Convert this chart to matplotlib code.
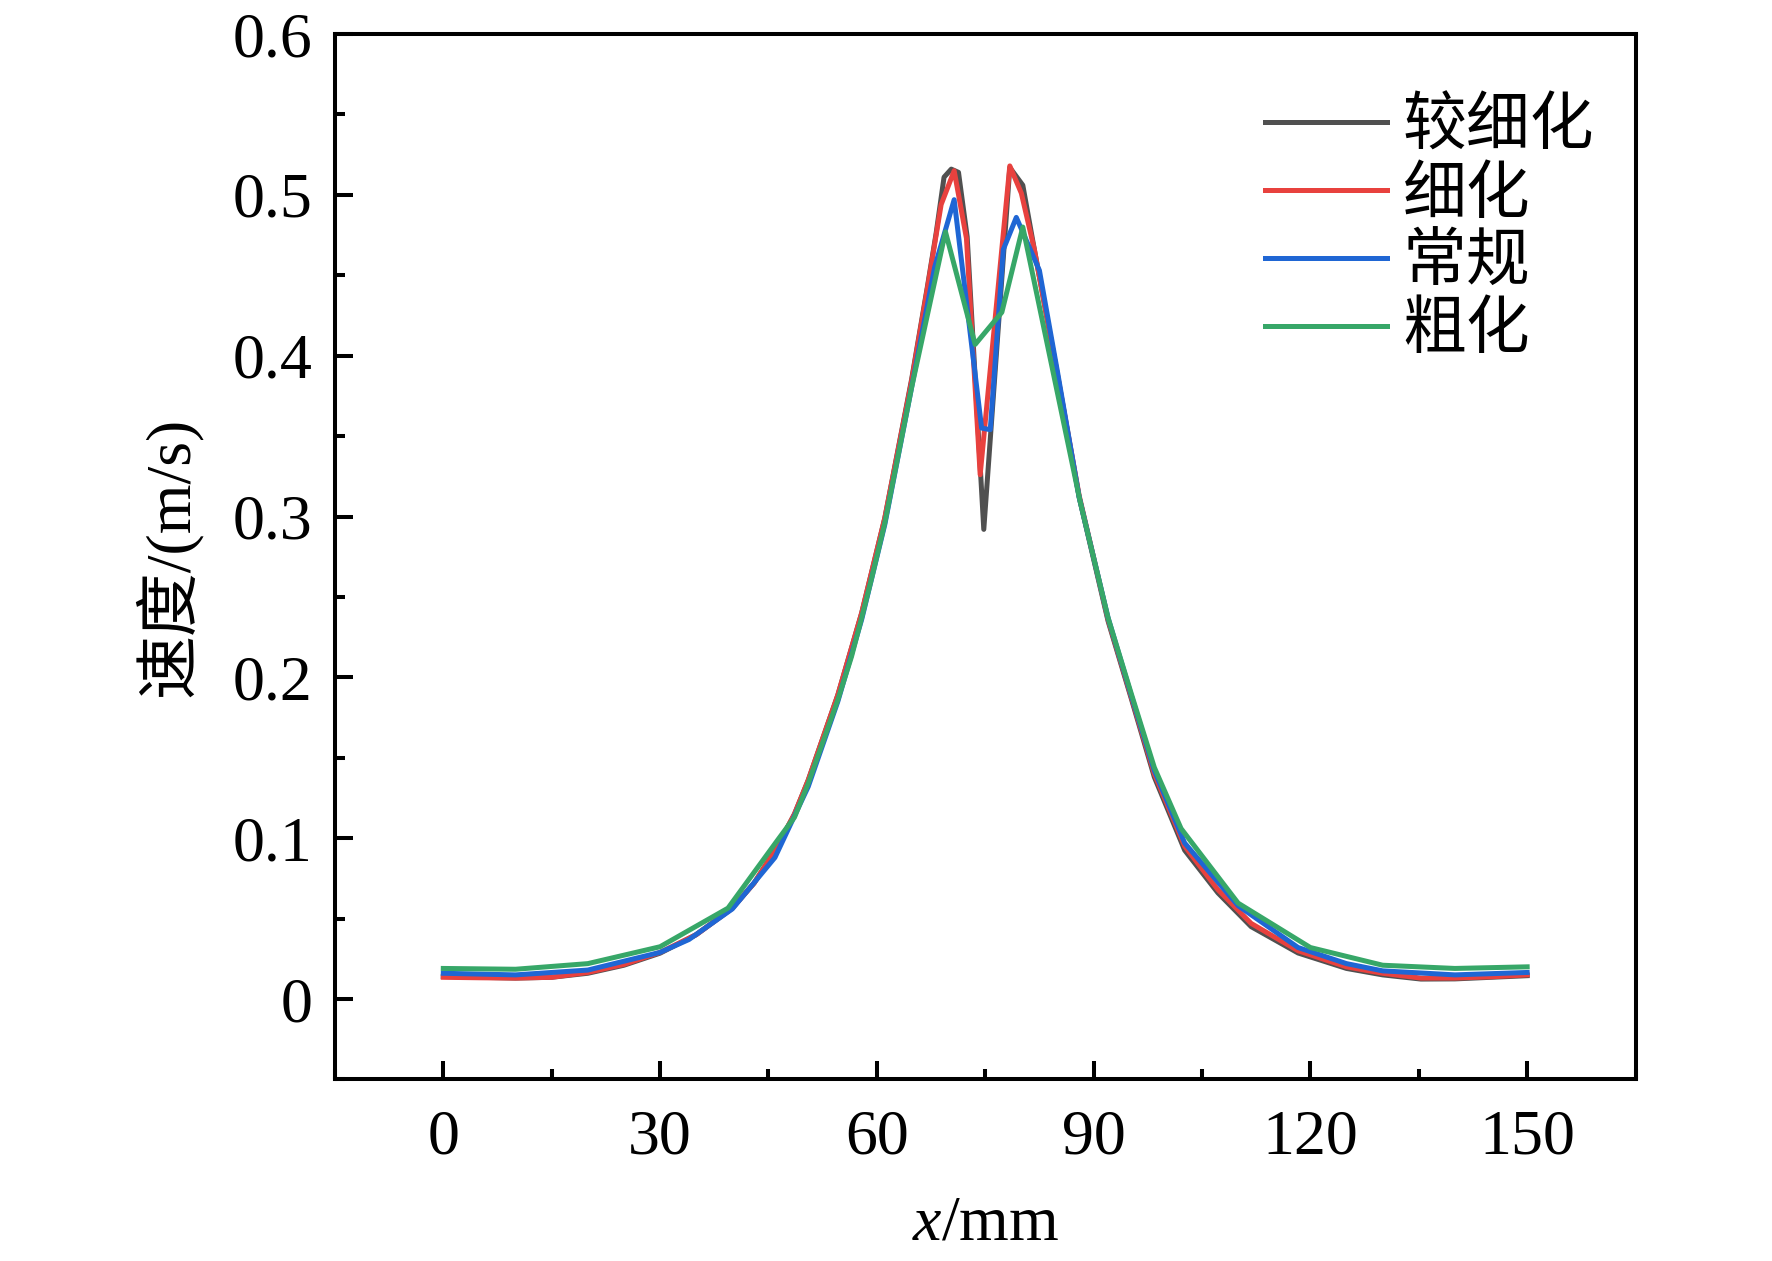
import matplotlib
matplotlib.use("Agg")
import matplotlib.pyplot as plt
from matplotlib.ticker import MultipleLocator

plt.rcParams['font.family'] = ['Liberation Serif', 'Noto Sans CJK SC']
plt.rcParams['mathtext.fontset'] = 'custom'
plt.rcParams['mathtext.it'] = 'Liberation Serif:italic'
plt.rcParams['mathtext.rm'] = 'Liberation Serif'

labels = ["较细化", "细化", "常规", "粗化"]
colors = ["#505050", "#e8413e", "#1f66d4", "#37a768"]

# 较细化
x_fine2 = [0, 5, 10, 15, 20, 25, 30, 35, 40, 43, 46, 48.6, 50.5, 54.6, 57.9, 61.1, 64.8, 67, 68.2,
           69.3, 70.3, 71.3, 72.5, 74.8, 78.4, 80.2, 81.8, 85, 88, 92, 95.2, 98.4, 102.6, 107.2,
           111.8, 118.3, 125, 130, 135.3, 140, 145, 150]
y_fine2 = [0.0140, 0.0135, 0.0130, 0.0135, 0.0160, 0.0210, 0.0285, 0.0400, 0.0565, 0.0720, 0.0930,
           0.1150, 0.1360, 0.1890, 0.2400, 0.2990, 0.3850, 0.4430, 0.4760, 0.5110, 0.5160, 0.5140,
           0.4740, 0.2920, 0.5170, 0.5060, 0.4660, 0.3880, 0.3120, 0.2350, 0.1870, 0.1380, 0.0925,
           0.0660, 0.0450, 0.0286, 0.0190, 0.0150, 0.0124, 0.0125, 0.0135, 0.0145]

# 细化
x_fine = [0, 5, 10, 15, 20, 25, 30, 35, 40, 43, 46, 48.6, 50.5, 54.6, 57.9, 61.1, 64.8, 67, 68.9,
          70.7, 72.4, 74.3, 78.4, 80.0, 81.8, 85, 88, 92, 95.2, 98.4, 102.6, 107.2, 111.8, 118.3,
          125, 130, 135.3, 140, 145, 150]
y_fine = [0.0135, 0.0132, 0.0130, 0.0135, 0.0165, 0.0215, 0.0290, 0.0400, 0.0565, 0.0720, 0.0930,
          0.1150, 0.1360, 0.1890, 0.2400, 0.2990, 0.3840, 0.4420, 0.4940, 0.5150, 0.4730, 0.3260,
          0.5180, 0.5010, 0.4660, 0.3880, 0.3130, 0.2360, 0.1880, 0.1400, 0.0950, 0.0680, 0.0470,
          0.0300, 0.0200, 0.0160, 0.0130, 0.0130, 0.0138, 0.0150]

# 常规
x_norm = [0, 10, 20, 30, 34, 40, 45.9, 50.5, 54.6, 57.9, 61.1, 64.8, 68, 70.7, 74.5, 75.7, 77.5,
          79.3, 82.5, 85, 88, 92, 95.2, 98.4, 102.6, 110, 118.3, 125, 130, 140, 150]
y_norm = [0.0160, 0.0150, 0.0180, 0.0290, 0.0370, 0.0560, 0.0880, 0.1320, 0.1850, 0.2360, 0.2950,
          0.3800, 0.4550, 0.4970, 0.3550, 0.3540, 0.4660, 0.4860, 0.4530, 0.3900, 0.3120, 0.2370,
          0.1890, 0.1420, 0.0970, 0.0580, 0.0320, 0.0220, 0.0175, 0.0150, 0.0165]

# 粗化
x_coarse = [0, 10, 20, 30, 39.4, 46.3, 48.6, 50.5, 54.6, 56.5, 57.9, 59.3, 61.1, 64.8, 69.5, 73.6,
            77.3, 80.2, 88.1, 92.0, 95.2, 98.4, 102.1, 110.0, 120, 130, 140, 150]
y_coarse = [0.0190, 0.0185, 0.0220, 0.0325, 0.0565, 0.0990, 0.1130, 0.1340, 0.1860, 0.2130, 0.2370,
            0.2620, 0.2960, 0.3800, 0.4770, 0.4070, 0.4270, 0.4800, 0.3100, 0.2370, 0.1900, 0.1440,
            0.1060, 0.0596, 0.0320, 0.0210, 0.0190, 0.0200]

xs = [x_fine2, x_fine, x_norm, x_coarse]
ys = [y_fine2, y_fine, y_norm, y_coarse]

fig = plt.figure(figsize=(17.72, 12.61), dpi=100)
ax = fig.add_axes([0.189, 0.144, 0.734, 0.829])

for x, y, lab, c in zip(xs, ys, labels, colors):
    ax.plot(x, y, color=c, lw=3.6, label=lab)

ax.set_xlim(-15, 165)
ax.set_ylim(-0.05, 0.6)
ax.xaxis.set_major_locator(MultipleLocator(30))
ax.xaxis.set_minor_locator(MultipleLocator(15))
ax.yaxis.set_major_locator(MultipleLocator(0.1))
ax.yaxis.set_minor_locator(MultipleLocator(0.05))
ax.set_yticks([0, 0.1, 0.2, 0.3, 0.4, 0.5, 0.6])
ax.set_yticklabels(["0", "0.1", "0.2", "0.3", "0.4", "0.5", "0.6"])

for s in ax.spines.values():
    s.set_linewidth(2.9)
ax.tick_params(which='both', direction='in', top=False, right=False, width=2.9, labelsize=46)
ax.tick_params(which='major', length=13)
ax.tick_params(which='minor', length=7)
ax.tick_params(axis='x', pad=22)
ax.tick_params(axis='y', pad=16)

ax.set_xlabel("$x$/mm", fontsize=46, labelpad=20)
ax.set_ylabel("速度/(m/s)", fontsize=46, labelpad=22)

leg = ax.legend(loc='upper left', bbox_to_anchor=(0.714, 0.921), bbox_transform=fig.transFigure,
                frameon=False, fontsize=46, handlelength=1.9, handletextpad=0.25,
                labelspacing=0.14, borderpad=0, borderaxespad=0)
for l in leg.get_lines():
    l.set_linewidth(3.6)

fig.savefig("out.png", dpi=100)
